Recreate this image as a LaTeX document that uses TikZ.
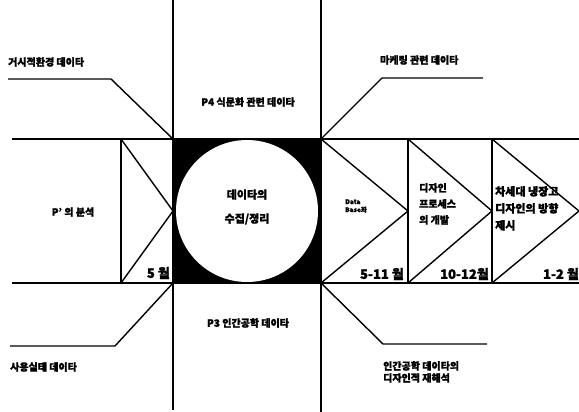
\documentclass[tikz,border=0pt]{standalone}
\usepackage{fontspec}
\setmainfont{Noto Sans CJK KR}[BoldFeatures={FakeBold=1.5}]
\begin{document}
\begin{tikzpicture}[x=1pt,y=-1pt,
  ln/.style={line width=1.4pt},
  lbl/.style={font=\fontsize{10}{12}\selectfont\bfseries, inner sep=0pt},
  small/.style={font=\fontsize{6.5}{8}\selectfont\bfseries, inner sep=0pt, align=left},
  colt/.style={font=\fontsize{10}{16}\selectfont\bfseries, inner sep=0pt, align=left},
  month/.style={font=\fontsize{13}{14}\selectfont\bfseries, inner sep=0pt}]
\useasboundingbox (0,0) rectangle (579,412);
% main frame
\coordinate (TL) at (173,139);
\coordinate (TR) at (321,139);
\coordinate (BL) at (173,283);
\coordinate (BR) at (321,283);
\fill[black] (TL) rectangle (BR);
\fill[white] (247,211) circle (71);
\draw[ln] (173,0) -- (173,410);
\draw[ln] (321,0) -- (321,412);
\draw[ln] (12,139) -- (579,139);
\draw[ln] (12,283) -- (579,283);
% left box
\draw[ln] (121,139) -- (121,283);
\draw[ln] (121,139) -- (173,211) -- (121,283);
% chevrons
\draw[ln] (408,139) -- (408,283);
\draw[ln] (492,139) -- (492,283);
\draw[ln] (321,139) -- (408,211) -- (321,283);
\draw[ln] (408,139) -- (492,211) -- (408,283);
\draw[ln] (492,139) -- (579,211) -- (492,283);
% leaders
\draw[ln] (TL) -- (111,79) -- (8,79);
\draw[ln] (TR) -- (382,78) -- (483,78);
\draw[ln] (BL) -- (115,346) -- (10,346);
\draw[ln] (BR) -- (383,344) -- (487,344);
% labels
\node[lbl, anchor=west] (l1) at (8,62) {거시적환경 데이타};
\node[lbl, anchor=west] (l2) at (380,60) {마케팅 관련 데이타};
\node[lbl, anchor=west] (l3) at (10,367) {사용실태 데이타};
\node[lbl, anchor=north west, align=left, font=\fontsize{10}{12}\selectfont\bfseries] (l4) at (383,361) {인간공학 데이타의\\디자인적 재해석};
\node[lbl] (p4) at (248,102) {P4 식문화 관련 데이타};
\node[lbl] (p3) at (248,323) {P3 인간공학 데이타};
\node[lbl, align=center, font=\fontsize{11}{24}\selectfont\bfseries] (c) at (247,207) {데이타의\\수집/정리};
\node[lbl] (p1) at (73,212) {P' 의 분석};
\node[month, anchor=east] (m1) at (170,273) {5 월};
\node[small, anchor=west] (db) at (345,206) {Data\\Base화};
\node[colt, anchor=north west] (c2) at (419,183) {디자인\\프로세스\\의 개발};
\node[colt, anchor=north west, font=\fontsize{11}{17}\selectfont\bfseries] (c3) at (495,186) {차세대 냉장고\\디자인의 방향\\제시};
\node[month, anchor=east] (m2) at (404,274) {5-11 월};
\node[month, anchor=east] (m3) at (489,274) {10-12월};
\node[month, anchor=east] (m4) at (579,274) {1-2 월};
\end{tikzpicture}
\end{document}
